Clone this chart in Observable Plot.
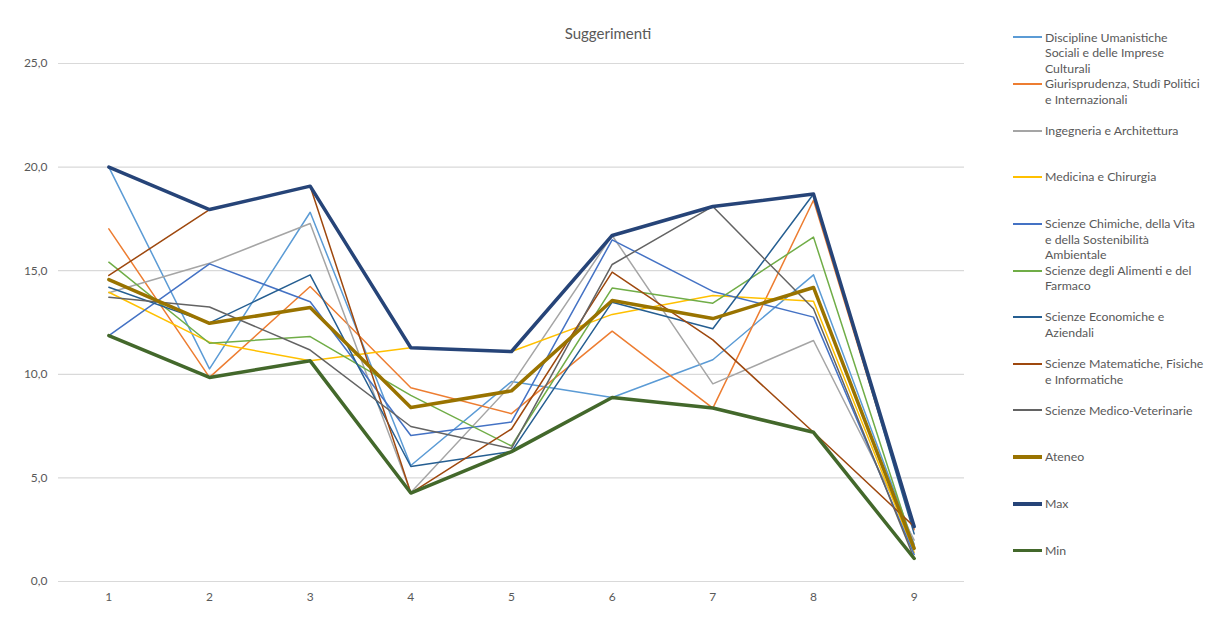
<!DOCTYPE html>
<html><head><meta charset="utf-8">
<script src="https://cdn.jsdelivr.net/npm/d3@7"></script>
<script src="https://cdn.jsdelivr.net/npm/@observablehq/plot@0.6"></script>
<style>
body{margin:0;background:#fff;font-family:Lato,"Open Sans",sans-serif;}
#wrap{position:relative;width:1216px;height:621px;overflow:hidden;}
#title{position:absolute;left:0;width:1216px;top:24px;text-align:center;font-size:15px;color:#595959;}
#legend{position:absolute;left:1013px;top:0;}
.item{position:absolute;left:0;white-space:nowrap;font-size:12.3px;line-height:15.6px;color:#595959;}
.swatch{position:absolute;left:0;width:29px;}
.txt{position:absolute;left:32px;top:0;}
</style></head><body>
<div id="wrap"><div id="chart"></div><div id="title">Suggerimenti</div><div id="legend"></div></div>
<script>
const categories = [1, 2, 3, 4, 5, 6, 7, 8, 9];
const yTicks = [0, 5, 10, 15, 20, 25];

const legendLabels = [
  ["Discipline Umanistiche", "Sociali e delle Imprese", "Culturali"],
  ["Giurisprudenza, Studî Politici", "e Internazionali"],
  ["Ingegneria e Architettura"],
  ["Medicina e Chirurgia"],
  ["Scienze Chimiche, della Vita", "e della Sostenibilità", "Ambientale"],
  ["Scienze degli Alimenti e del", "Farmaco"],
  ["Scienze Economiche e", "Aziendali"],
  ["Scienze Matematiche, Fisiche", "e Informatiche"],
  ["Scienze Medico-Veterinarie"],
  ["Ateneo"],
  ["Max"],
  ["Min"]
];
const seriesNames = legendLabels.map(l => l.join(" "));

const discipline     = [20.0, 10.26, 17.82, 5.6, 9.65, 8.88, 10.7, 14.8, 1.8];
const giurisprudenza = [17.02, 9.85, 14.24, 9.35, 8.1, 12.08, 8.37, 18.4, 2.5];
const ingegneria     = [13.94, 15.36, 17.28, 4.3, 9.5, 16.7, 9.54, 11.63, 2.0];
const medicina       = [13.96, 11.55, 10.65, 11.28, 11.1, 12.89, 13.8, 13.53, 1.4];
const chimiche       = [11.87, 15.33, 13.5, 7.05, 7.7, 16.49, 14.0, 12.76, 1.3];
const alimenti       = [15.41, 11.5, 11.82, 8.98, 6.54, 14.16, 13.43, 16.62, 1.6];
const economiche     = [14.2, 12.48, 14.8, 5.55, 6.27, 13.48, 12.2, 18.7, 2.3];
const matematiche    = [14.77, 17.95, 19.08, 4.27, 7.36, 14.93, 11.66, 7.2, 2.65];
const medicoVet      = [13.72, 13.25, 11.17, 7.48, 6.42, 15.3, 18.1, 13.16, 1.11];
const ateneo         = [14.57, 12.46, 13.22, 8.4, 9.2, 13.56, 12.69, 14.19, 1.6];
const maxValues      = [20.0, 17.95, 19.08, 11.28, 11.1, 16.7, 18.1, 18.7, 2.65];
const minValues      = [11.87, 9.85, 10.65, 4.27, 6.27, 8.88, 8.37, 7.2, 1.11];

const seriesValues = [discipline, giurisprudenza, ingegneria, medicina, chimiche, alimenti,
  economiche, matematiche, medicoVet, ateneo, maxValues, minValues];
const colors = ["#5B9BD5", "#ED7D31", "#A5A5A5", "#FFC000", "#4472C4", "#70AD47",
  "#255E91", "#9E480E", "#636363", "#997300", "#264478", "#43682B"];
const widths = [1.5, 1.5, 1.5, 1.5, 1.5, 1.5, 1.5, 1.5, 1.5, 3.5, 3.5, 3.5];

const data = [];
seriesNames.forEach((s, i) => seriesValues[i].forEach((v, j) => data.push({series: s, x: categories[j], y: v})));

const chart = Plot.plot({
  width: 1216, height: 621,
  marginLeft: 58, marginRight: 252, marginTop: 63, marginBottom: 40,
  style: {color: "#595959", fontFamily: "Lato, 'Open Sans', sans-serif", background: "#fff"},
  x: {domain: [0.5, 9.5], axis: null},
  y: {domain: [0, 25], axis: null},
  marks: [
    Plot.ruleY(yTicks, {stroke: "#d9d9d9", strokeWidth: 1.2}),
    Plot.axisY({ticks: yTicks, tickFormat: d => d.toFixed(1).replace(".", ","), tickSize: 0, tickPadding: 11, fontSize: 12, fill: "#595959", label: null}),
    Plot.axisX({ticks: categories, tickFormat: d => String(d), tickSize: 0, tickPadding: 11, fontSize: 12, fill: "#595959", label: null}),
    ...seriesNames.map((s, i) => Plot.line(data.filter(d => d.series === s), {
      x: "x", y: "y", stroke: colors[i], strokeWidth: widths[i], strokeLinejoin: "round", strokeLinecap: "round"
    }))
  ]
});
document.getElementById("chart").appendChild(chart);

const legend = document.getElementById("legend");
legendLabels.forEach((lines, i) => {
  const cy = 37.3 + i * 46.65;
  const h = widths[i] > 2 ? 3.5 : 2;
  const item = document.createElement("div");
  item.className = "item";
  item.style.top = (cy - 7.8) + "px";
  const sw = document.createElement("div");
  sw.className = "swatch";
  sw.style.height = h + "px";
  sw.style.top = (7.8 - h / 2) + "px";
  sw.style.background = colors[i];
  item.appendChild(sw);
  const t = document.createElement("div");
  t.className = "txt";
  t.innerHTML = lines.join("<br>");
  item.appendChild(t);
  legend.appendChild(item);
});
</script>
</body></html>
